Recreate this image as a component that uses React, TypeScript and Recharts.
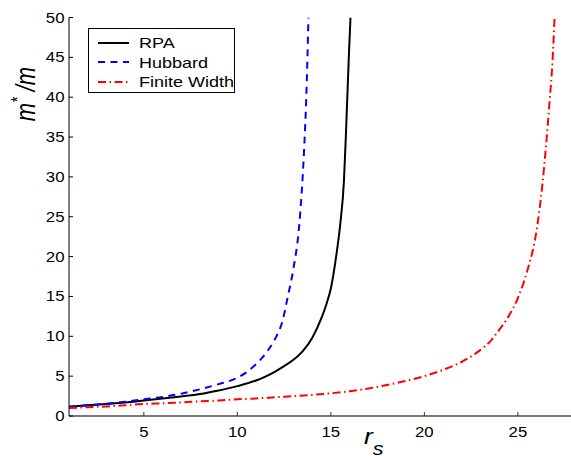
import { LineChart, Line, XAxis, YAxis, Legend } from "recharts";

// r_s sample points and effective mass ratio for each model
const rpaRs = [1, 2, 3, 4, 5, 6, 7, 8, 9, 10, 11, 11.5, 12, 12.5, 13, 13.5, 14, 14.5, 14.8, 15, 15.3, 15.5, 15.7, 15.8, 15.88, 15.96, 16.05];
const rpaMass = [1.17, 1.35, 1.5, 1.7, 1.95, 2.2, 2.45, 2.75, 3.2, 3.75, 4.45, 4.95, 5.55, 6.25, 7.05, 8.15, 9.8, 12.3, 14.3, 16, 20.3, 24, 29.5, 35, 40, 45, 50];

const hubbardRs = [1, 2, 3, 4, 5, 6, 7, 8, 9, 10, 10.5, 11, 11.5, 12, 12.4, 12.7, 13, 13.3, 13.45, 13.57, 13.68, 13.75, 13.8];
const hubbardMass = [1.17, 1.35, 1.55, 1.8, 2.1, 2.4, 2.8, 3.35, 4.0, 4.8, 5.5, 6.5, 7.8, 9.6, 11.8, 15, 18.5, 23.7, 28.4, 33.4, 39.6, 45, 50];

const finiteRs = [1, 2, 3, 4, 5, 6, 7, 8, 9, 10, 11, 12, 13, 14, 15, 16, 17, 18, 19, 20, 21, 22, 23, 23.5, 24, 24.5, 25, 25.5, 26, 26.3, 26.5, 26.7, 26.85, 26.96];
const finiteMass = [1.0, 1.1, 1.2, 1.35, 1.5, 1.6, 1.7, 1.85, 1.95, 2.1, 2.2, 2.35, 2.5, 2.65, 2.85, 3.1, 3.45, 3.9, 4.4, 5.0, 5.8, 6.8, 8.3, 9.3, 10.8, 12.5, 14.8, 18.2, 23.3, 28.8, 33.8, 39.6, 44.5, 50];

const xTicks = [5, 10, 15, 20, 25];
const yTicks = [0, 5, 10, 15, 20, 25, 30, 35, 40, 45, 50];

const toPoints = (rs: number[], mass: number[]) => rs.map((r, i) => ({ rs: r, m: mass[i] }));

const series = [
  { name: "RPA", data: toPoints(rpaRs, rpaMass), color: "#000000", dash: undefined },
  { name: "Hubbard", data: toPoints(hubbardRs, hubbardMass), color: "#0000ff", dash: "7 5.5" },
  { name: "Finite Width", data: toPoints(finiteRs, finiteMass), color: "#ff0000", dash: "8 3.5 1.5 3.5" },
];

const FONT = "'Liberation Sans', Arial, Helvetica, sans-serif";

const YTick = ({ x, y, payload }: any) => (
  <g>
    <line x1={x} x2={x + 4} y1={y} y2={y} stroke="#000" strokeWidth={1} />
    <text
      transform={`translate(${x - 4.5} ${y + 5}) scale(1.2 1)`}
      textAnchor="end"
      fontFamily={FONT}
      fontSize={14}
      fill="#000"
    >
      {payload.value}
    </text>
  </g>
);

const XTick = ({ x, y, payload }: any) => (
  <g>
    <line x1={x} x2={x} y1={y} y2={y - 4} stroke="#333" strokeWidth={1} />
    <text
      transform={`translate(${x} ${y + 21}) scale(1.2 1)`}
      textAnchor="middle"
      fontFamily={FONT}
      fontSize={14}
      fill="#000"
    >
      {payload.value}
    </text>
  </g>
);

const YLabel = () => (
  <text
    transform="translate(35 94) rotate(-90) scale(1 1.25)"
    textAnchor="middle"
    fontFamily={FONT}
    fontSize={22}
    fontStyle="italic"
    fill="#000"
  >
    m<tspan fontSize={14} dy={-9}>*</tspan>
    <tspan dy={9}> /m</tspan>
  </text>
);

const XLabel = () => (
  <text fontFamily={FONT} fontStyle="italic" fill="#000" transform="translate(364 444) scale(1.2 1)">
    <tspan fontSize={22}>r</tspan>
    <tspan fontSize={18} dy={11}>s</tspan>
  </text>
);

const LegendBox = () => (
  <div
    style={{
      border: "1px solid #000",
      background: "#fff",
      width: 147,
      height: 65,
      boxSizing: "border-box",
      paddingTop: 4,
      fontFamily: FONT,
      fontSize: 15,
    }}
  >
    {series.map((s) => (
      <div key={s.name} style={{ display: "flex", alignItems: "center", height: 19.5 }}>
        <svg width={40} height={6} style={{ marginLeft: 9, flex: "none" }}>
          <line x1={0} x2={31} y1={3} y2={3} stroke={s.color} strokeWidth={2} strokeDasharray={s.dash} />
        </svg>
        <span style={{ display: "inline-block", transform: "scaleX(1.2)", transformOrigin: "left center", lineHeight: "19px", marginLeft: 1 }}>
          {s.name}
        </span>
      </div>
    ))}
  </div>
);

export default function App() {
  return (
    <div style={{ position: "fixed", left: 0, top: 0, width: 571, height: 456, overflow: "hidden", background: "#fff" }}>
      <LineChart width={580} height={456} margin={{ top: 17.5, right: 6, bottom: 10, left: 0 }}>
        <XAxis
          type="number"
          dataKey="rs"
          domain={[1, 28]}
          ticks={xTicks}
          allowDataOverflow
          height={30}
          tickSize={0}
          tickMargin={0}
          tickLine={false}
          tick={<XTick />}
          axisLine={{ stroke: "#7a7a7a", strokeWidth: 2 }}
          label={<XLabel />}
        />
        <YAxis
          type="number"
          dataKey="m"
          domain={[0, 50]}
          ticks={yTicks}
          allowDataOverflow
          width={69}
          tickSize={0}
          tickMargin={0}
          tickLine={false}
          tick={<YTick />}
          axisLine={{ stroke: "#000", strokeWidth: 1 }}
          label={<YLabel />}
        />
        <Legend
          layout="vertical"
          align="center"
          verticalAlign="middle"
          content={<LegendBox />}
          wrapperStyle={{ left: 88, top: 28, width: 147, height: 65 }}
        />
        {series.map((s) => (
          <Line
            key={s.name}
            name={s.name}
            data={s.data}
            dataKey="m"
            type="monotone"
            stroke={s.color}
            strokeWidth={2}
            strokeDasharray={s.dash}
            dot={false}
            isAnimationActive={false}
          />
        ))}
      </LineChart>
    </div>
  );
}
